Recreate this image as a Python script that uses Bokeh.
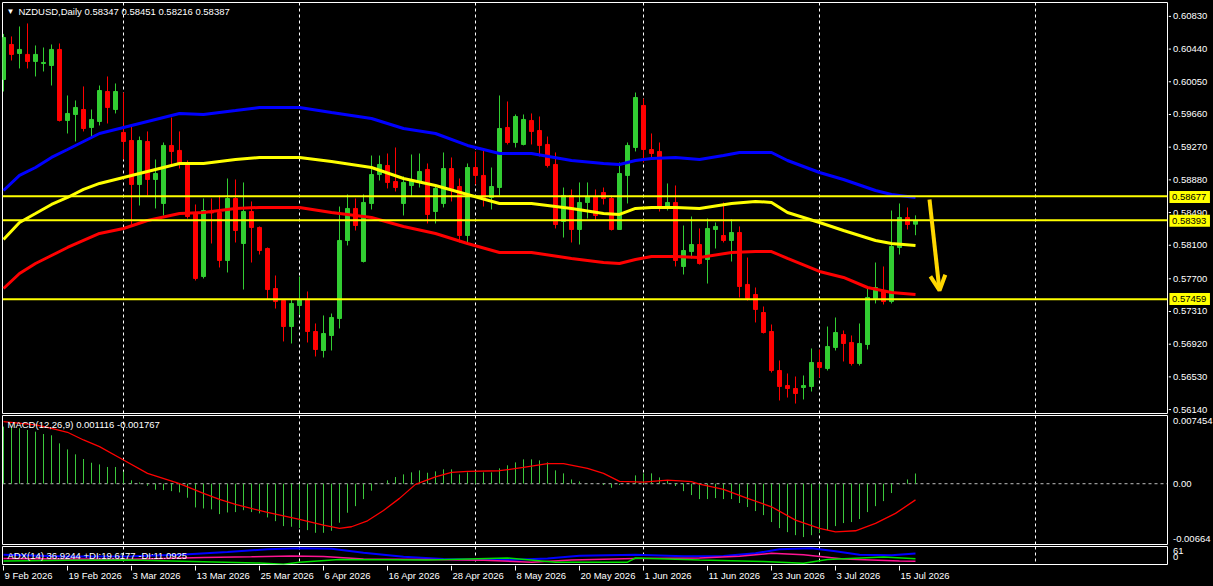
from bokeh.plotting import figure
from bokeh.layouts import column, row
from bokeh.models import Range1d, Span, Label, Arrow, OpenHead, ColumnDataSource
from bokeh.embed import file_html
from bokeh.resources import INLINE
from bokeh.core.properties import value

# ---------------- data ----------------
symbol = "NZDUSD,Daily"

opens = [0.60060, 0.60475, 0.60368, 0.60357, 0.60274, 0.60250, 0.60226, 0.60416, 0.59575, 0.59646,
         0.59705, 0.59492, 0.59563, 0.59918, 0.59705, 0.59433, 0.59338, 0.58817, 0.59326, 0.58876,
         0.58592, 0.59279, 0.59220, 0.59077, 0.58473, 0.57727, 0.58485, 0.58485, 0.57917, 0.58651,
         0.58118, 0.58497, 0.58308, 0.58059, 0.57585, 0.57443, 0.57135, 0.57384, 0.57455, 0.57076,
         0.56851, 0.57029, 0.57230, 0.58154, 0.58533, 0.57905, 0.58592, 0.58935, 0.59042, 0.58852,
         0.58592, 0.58805, 0.58852, 0.58995, 0.58497, 0.58592, 0.59006, 0.58793, 0.58213, 0.59018,
         0.58924, 0.58663, 0.58781, 0.59492, 0.59314, 0.59291, 0.59575, 0.59456, 0.59291, 0.59054,
         0.58379, 0.58687, 0.58284, 0.58604, 0.58675, 0.58722, 0.58651, 0.58284, 0.58924, 0.59255,
         0.59753, 0.59231, 0.59208, 0.58545, 0.58604, 0.57846, 0.58023, 0.58106, 0.57929, 0.58284,
         0.58213, 0.58154, 0.58248, 0.57633, 0.57514, 0.57301, 0.57076, 0.56614, 0.56436, 0.56401,
         0.56413, 0.56425, 0.56709, 0.56638, 0.56887, 0.57040, 0.56946, 0.56697, 0.56922, 0.57467,
         0.57550, 0.57431, 0.58071, 0.58426, 0.58347]
highs = [0.60600, 0.60570, 0.60688, 0.60724, 0.60463, 0.60439, 0.60475, 0.60487, 0.59871, 0.59812,
         0.59978, 0.59705, 0.59989, 0.60096, 0.60013, 0.59906, 0.59528, 0.59385, 0.59445, 0.59113,
         0.59314, 0.59610, 0.59445, 0.59101, 0.58580, 0.58651, 0.58651, 0.58687, 0.58888, 0.58876,
         0.58841, 0.58616, 0.58320, 0.58071, 0.57739, 0.57455, 0.57455, 0.57727, 0.57550, 0.57171,
         0.57266, 0.57289, 0.58556, 0.58699, 0.58651, 0.58699, 0.59160, 0.59160, 0.59184, 0.59255,
         0.58912, 0.59172, 0.59184, 0.59066, 0.58793, 0.59196, 0.59137, 0.58888, 0.59066, 0.59208,
         0.59231, 0.59018, 0.59871, 0.59800, 0.59646, 0.59646, 0.59658, 0.59622, 0.59385, 0.59196,
         0.58781, 0.58758, 0.58841, 0.58841, 0.58758, 0.58781, 0.58687, 0.59077, 0.59314, 0.59906,
         0.59835, 0.59421, 0.59314, 0.58829, 0.58805, 0.58331, 0.58438, 0.58296, 0.58414, 0.58367,
         0.58604, 0.58402, 0.58320, 0.57952, 0.57597, 0.57372, 0.57159, 0.56733, 0.56579, 0.56543,
         0.56555, 0.56875, 0.56863, 0.57135, 0.57242, 0.57088, 0.57029, 0.57171, 0.57597, 0.57893,
         0.57846, 0.58509, 0.58592, 0.58545, 0.58451]
lows = [0.59918, 0.60285, 0.60191, 0.60191, 0.60096, 0.60155, 0.59989, 0.59563, 0.59421, 0.59326,
        0.59445, 0.59374, 0.59516, 0.59539, 0.59658, 0.59113, 0.58343, 0.58568, 0.58687, 0.58533,
        0.58450, 0.59042, 0.59006, 0.58414, 0.57680, 0.57704, 0.58118, 0.57834, 0.57775, 0.58130,
        0.57573, 0.57893, 0.57988, 0.57455, 0.57348, 0.56958, 0.56934, 0.57277, 0.56946, 0.56780,
        0.56768, 0.56851, 0.57112, 0.58095, 0.58272, 0.57893, 0.58521, 0.58864, 0.58770, 0.58734,
        0.58450, 0.58675, 0.58781, 0.58355, 0.58355, 0.58545, 0.58616, 0.58130, 0.58106, 0.58817,
        0.58556, 0.58521, 0.58687, 0.59291, 0.59255, 0.59280, 0.59291, 0.59149, 0.59018, 0.58296,
        0.58189, 0.58130, 0.58106, 0.58414, 0.58391, 0.58580, 0.58272, 0.58280, 0.58592, 0.59208,
        0.59077, 0.59137, 0.58497, 0.58509, 0.57846, 0.57751, 0.57941, 0.57869, 0.57644, 0.58059,
        0.58130, 0.57905, 0.57479, 0.57443, 0.57183, 0.57052, 0.56590, 0.56259, 0.56294, 0.56223,
        0.56271, 0.56365, 0.56531, 0.56614, 0.56851, 0.56721, 0.56673, 0.56673, 0.56863, 0.57408,
        0.57396, 0.57408, 0.57988, 0.58284, 0.58216]
closes = [0.60558, 0.60357, 0.60416, 0.60274, 0.60357, 0.60262, 0.60416, 0.59575, 0.59658, 0.59729,
          0.59480, 0.59587, 0.59930, 0.59729, 0.59918, 0.59326, 0.58817, 0.59338, 0.58876, 0.58947,
          0.59279, 0.59208, 0.59066, 0.58438, 0.57704, 0.58509, 0.58480, 0.57917, 0.58651, 0.58272,
          0.58497, 0.58308, 0.58035, 0.57573, 0.57431, 0.57135, 0.57408, 0.57455, 0.57076, 0.56863,
          0.57052, 0.57242, 0.58154, 0.58533, 0.58331, 0.58604, 0.58935, 0.59054, 0.58841, 0.58781,
          0.58841, 0.58864, 0.58971, 0.58462, 0.58770, 0.59006, 0.58770, 0.58213, 0.59018, 0.58924,
          0.58663, 0.58793, 0.59480, 0.59314, 0.59622, 0.59587, 0.59445, 0.59279, 0.59042, 0.58343,
          0.58687, 0.58284, 0.58604, 0.58675, 0.58450, 0.58651, 0.58284, 0.58947, 0.59279, 0.59847,
          0.59231, 0.59184, 0.58533, 0.58604, 0.57917, 0.58035, 0.58106, 0.57881, 0.58296, 0.58320,
          0.58154, 0.58248, 0.57609, 0.57467, 0.57337, 0.57064, 0.56614, 0.56425, 0.56401, 0.56342,
          0.56436, 0.56709, 0.56650, 0.56898, 0.57064, 0.56934, 0.56697, 0.56934, 0.57479, 0.57597,
          0.57431, 0.58083, 0.58426, 0.58343, 0.58387]

# moving averages (sampled along the drawn curves: bar index, price)
ma_blue_idx = [0, 2, 4, 6, 8, 10, 12, 15, 18, 22, 25, 29, 32, 37, 41, 46, 50, 54, 58, 62,
               66, 71, 75, 77, 79, 81, 84, 87, 90, 92, 96, 98, 102, 105, 109, 111, 114]
ma_blue_val = [0.58746, 0.58924, 0.59018, 0.59137, 0.59231, 0.59326, 0.59421, 0.59492, 0.59563, 0.59658,
               0.59646, 0.59693, 0.59729, 0.59729, 0.59670, 0.59599, 0.59480, 0.59421, 0.59279, 0.59184,
               0.59184, 0.59101, 0.59066, 0.59054, 0.59101, 0.59125, 0.59137, 0.59113, 0.59160, 0.59196,
               0.59196, 0.59101, 0.58959, 0.58876, 0.58746, 0.58699, 0.58663]
ma_yellow_idx = [0, 2, 4, 6, 8, 10, 12, 15, 18, 22, 25, 29, 32, 37, 41, 46, 50, 54, 58, 62,
                 66, 71, 75, 77, 79, 81, 84, 87, 91, 94, 96, 98, 102, 105, 109, 111, 114]
ma_yellow_val = [0.58166, 0.58367, 0.58473, 0.58580, 0.58663, 0.58758, 0.58829, 0.58900, 0.58971, 0.59066,
                 0.59066, 0.59113, 0.59137, 0.59137, 0.59089, 0.59018, 0.58888, 0.58805, 0.58699, 0.58592,
                 0.58592, 0.58533, 0.58473, 0.58462, 0.58533, 0.58545, 0.58545, 0.58533, 0.58592, 0.58616,
                 0.58604, 0.58485, 0.58367, 0.58272, 0.58154, 0.58118, 0.58095]
ma_red_idx = [0, 2, 4, 6, 8, 10, 12, 15, 18, 22, 25, 29, 32, 37, 41, 46, 50, 54, 58, 62,
              66, 71, 75, 77, 79, 81, 84, 87, 91, 94, 96, 98, 102, 105, 108, 111, 114]
ma_red_val = [0.57585, 0.57763, 0.57881, 0.57976, 0.58071, 0.58154, 0.58237, 0.58296, 0.58391, 0.58473,
              0.58485, 0.58533, 0.58545, 0.58545, 0.58485, 0.58426, 0.58320, 0.58237, 0.58118, 0.58012,
              0.58012, 0.57941, 0.57893, 0.57881, 0.57929, 0.57964, 0.57964, 0.57952, 0.58012, 0.58023,
              0.58023, 0.57941, 0.57787, 0.57716, 0.57597, 0.57538, 0.57514]

levels = [0.58677, 0.58393, 0.57459]
price_ticks = [0.60830, 0.60440, 0.60050, 0.59660, 0.59270, 0.58880, 0.58490,
               0.58100, 0.57700, 0.57310, 0.56920, 0.56530, 0.56140]

macd_hist = [0.00624, 0.00616, 0.00606, 0.00587, 0.00569, 0.00543, 0.00529, 0.00441, 0.00375, 0.00321,
             0.00270, 0.00229, 0.00211, 0.00183, 0.00183, 0.00132, 0.00037, 0.00014, -0.00022, -0.00065,
             -0.00069, -0.00081, -0.00095, -0.00153, -0.00259, -0.00270, -0.00280, -0.00332, -0.00314, -0.00310,
             -0.00289, -0.00310, -0.00324, -0.00368, -0.00409, -0.00463, -0.00470, -0.00485, -0.00507, -0.00536,
             -0.00536, -0.00514, -0.00426, -0.00317, -0.00245, -0.00168, -0.00076, -0.00004, 0.00037, 0.00073,
             0.00102, 0.00124, 0.00146, 0.00120, 0.00135, 0.00157, 0.00157, 0.00102, 0.00124, 0.00142,
             0.00124, 0.00124, 0.00168, 0.00201, 0.00233, 0.00266, 0.00266, 0.00255, 0.00233, 0.00146,
             0.00113, 0.00047, 0.00025, 0.00002, -0.00002, -0.00014, -0.00044, -0.00014, 0.00002, 0.00091,
             0.00113, 0.00113, 0.00069, 0.00037, -0.00025, -0.00081, -0.00124, -0.00168, -0.00168, -0.00157,
             -0.00168, -0.00168, -0.00211, -0.00255, -0.00299, -0.00343, -0.00419, -0.00485, -0.00529, -0.00562,
             -0.00583, -0.00562, -0.00539, -0.00507, -0.00463, -0.00430, -0.00419, -0.00386, -0.00310, -0.00245,
             -0.00190, -0.00102, -0.00007, 0.00047, 0.001116]
signal_idx = [0, 4, 6, 8, 10, 12, 15, 18, 22, 25, 27, 29, 33, 37, 40, 42, 43.5, 45.5, 47.5, 49.5,
              51.5, 54, 56, 58, 62, 65, 68, 70, 73, 75, 77, 80, 83, 86, 87, 90, 93, 96, 99, 102,
              104, 106.5, 109, 111.5, 114]
signal_val = [0.00678, 0.00642, 0.00606, 0.00562, 0.00478, 0.00405, 0.00259, 0.00113, 0.0, -0.00106,
              -0.00171, -0.00226, -0.00314, -0.00390, -0.00452, -0.00488, -0.00470, -0.00405, -0.00292, -0.00160,
              -0.00007, 0.00076, 0.00124, 0.00134, 0.00142, 0.00178, 0.00219, 0.00219, 0.00168, 0.00113,
              0.00025, 0.00018, 0.00040, 0.00022, -0.00004, -0.00062, -0.00160, -0.00252, -0.00398, -0.00488,
              -0.00525, -0.00514, -0.00434, -0.00324, -0.001767]
macd_scale = [-0.00664, 0.007454]          # bottom / top of the MACD window
macd_ticks = [0.007454, 0.0, -0.00664]
macd_tick_labels = ["0.007454", "0.00", "-0.00664"]

adx_idx = [0, 8, 16, 22, 28, 33, 37, 41, 45, 50, 55, 63, 68, 72, 79, 85, 90, 94, 97, 101, 104, 107, 111, 114]
adx_val = [33, 27, 28, 33, 42, 52, 55, 53, 40, 26, 19, 15, 20, 30, 33, 28, 29, 38, 52, 55, 45, 33, 31, 36.9244]
mdi_idx = [0, 8, 16, 25, 31, 36, 40, 45, 53, 60, 66, 71, 79, 87, 92, 96, 100, 105, 112, 114]
mdi_val = [20, 19, 18, 24, 26, 29, 27, 19, 17, 14, 8, 15, 20, 22, 28, 38, 33, 19, 12, 11.0925]
pdi_idx = [0, 8, 16, 25, 32, 35, 37, 42, 53, 63, 69, 78, 79, 87, 95, 100, 103, 110, 114]
pdi_val = [12, 14, 15, 9, 5, 1, 8, 17, 15, 22, 8, 8, 22, 15, 10, 4, 17, 25, 19.6177]
adx_scale = [0, 61]
adx_tick_labels = ["61", "0"]

date_idx = [0, 8, 16, 24, 32, 40, 48, 56, 64, 72, 80, 88, 96, 104, 112]
date_labels = ["9 Feb 2026", "19 Feb 2026", "3 Mar 2026", "13 Mar 2026", "25 Mar 2026",
               "6 Apr 2026", "16 Apr 2026", "28 Apr 2026", "8 May 2026", "20 May 2026",
               "1 Jun 2026", "11 Jun 2026", "23 Jun 2026", "3 Jul 2026", "15 Jul 2026"]
separator_idx = [15, 37, 59, 80, 102, 129]

# drawn arrow (bar index, price)
arrow_start = (115.75, 0.58639)
arrow_end = (117.0, 0.57562)

# ---------------- styling / layout ----------------
W_MAIN, W_SIDE = 1168, 45
LEFT = 2
FONT = "Liberation Sans"
FS = "9.5px"
FG = "white"
BG = "black"
BULL = "#32CD32"
BEAR = "#FF0000"
TAG = "#FFFF00"

xr = Range1d(-0.125, 145.5)      # 8 px per bar, first bar 1 px inside the frame


def panel(height, y_range, top, bottom):
    p = figure(width=W_MAIN, height=height, x_range=xr, y_range=y_range,
               output_backend="svg", toolbar_location=None, tools="",
               x_axis_type=None, y_axis_type=None,
               min_border_left=LEFT, min_border_right=1,
               min_border_top=top, min_border_bottom=bottom,
               background_fill_color=BG, border_fill_color=BG,
               outline_line_color=FG, outline_line_width=1)
    p.grid.visible = False
    for s in separator_idx:
        p.add_layout(Span(location=s, dimension="height", line_color=FG,
                          line_width=1, line_dash="3 3", level="underlay"))
    return p


def side(height, y_range):
    r = figure(width=W_SIDE, height=height, x_range=Range1d(0, W_SIDE), y_range=y_range,
               output_backend="svg", toolbar_location=None, tools="",
               x_axis_type=None, y_axis_type=None,
               min_border_left=0, min_border_right=0, min_border_top=0, min_border_bottom=0,
               background_fill_color=BG, border_fill_color=BG, outline_line_color=None)
    r.grid.visible = False
    return r


def side_text(r, ys, texts, color=FG, baseline="middle", x=4.5, y_offset=0):
    r.text(x=[x] * len(ys), y=ys, text=texts, text_color=color, text_align="left",
           text_baseline=baseline, y_offset=y_offset,
           text_font=value(FONT), text_font_size=FS)


def title(p, x, y, text, size=FS):
    p.add_layout(Label(x=x, y=y, x_units="screen", y_units="screen", text=text,
                       text_color=FG, text_font=FONT, text_font_size=size,
                       text_baseline="middle", text_align="left"))


n = len(opens)
bars = list(range(n))

# ---- main price window ----
PX_MAIN = (0.60972 - 0.56105) / 411
p1 = panel(414, Range1d(0.56105, 0.60972), 2, 1)
src = ColumnDataSource(dict(
    x=bars, high=highs, low=lows,
    top=[max(o, c) for o, c in zip(opens, closes)],
    bottom=[min(o, c) for o, c in zip(opens, closes)],
    color=[BULL if c >= o else BEAR for o, c in zip(opens, closes)],
))
p1.segment(x0="x", y0="low", x1="x", y1="high", line_color="color", line_width=1, source=src)
p1.vbar(x="x", width=0.5, top="top", bottom="bottom", fill_color="color",
        line_color="color", line_width=1, source=src)
p1.line(ma_blue_idx, ma_blue_val, line_color="#0000FF", line_width=3)
p1.line(ma_yellow_idx, ma_yellow_val, line_color="#FFFF00", line_width=3)
p1.line(ma_red_idx, ma_red_val, line_color="#FF0000", line_width=3)
for lv in levels:
    p1.add_layout(Span(location=lv, dimension="width", line_color=TAG, line_width=2))
p1.add_layout(Arrow(end=OpenHead(line_color="#FFD700", line_width=4, size=15),
                    x_start=arrow_start[0], y_start=arrow_start[1],
                    x_end=arrow_end[0], y_end=arrow_end[1],
                    line_color="#FFD700", line_width=4))
title(p1, 4, 402, "\u25BC", size="8px")
title(p1, 16, 402, f"{symbol}  {opens[-1]:.5f} {highs[-1]:.5f} {lows[-1]:.5f} {closes[-1]:.5f}")

r1 = side(414, Range1d(0.56105 - PX_MAIN, 0.60972 + 2 * PX_MAIN))
r1.segment(x0=[0] * len(price_ticks), y0=price_ticks, x1=[2.5] * len(price_ticks), y1=price_ticks,
           line_color=FG, line_width=1)
side_text(r1, price_ticks, [f"{t:.5f}" for t in price_ticks])
r1.rect(x=[21.2] * len(levels), y=levels, width=40.5, height=12, height_units="screen",
        fill_color=TAG, line_color=None)
side_text(r1, levels, [f"{lv:.5f}" for lv in levels], color="black", x=3.5)

# ---- MACD window ----
PX_MACD = (macd_scale[1] - macd_scale[0]) / 129
p2 = panel(131, Range1d(macd_scale[0], macd_scale[1]), 1, 1)
p2.add_layout(Span(location=0, dimension="width", line_color="#C0C0C0",
                   line_width=1, line_dash="3 3", level="underlay"))
p2.segment(x0=bars, y0=[0] * n, x1=bars, y1=macd_hist, line_color="#3CC83C", line_width=1)
p2.line(signal_idx, signal_val, line_color="#FF0000", line_width=1.3)
title(p2, 5, 120, f"MACD(12,26,9) {macd_hist[-1]:.6f} {signal_val[-1]:.6f}")

r2 = side(131, Range1d(macd_scale[0] - PX_MACD, macd_scale[1] + PX_MACD))
side_text(r2, [macd_ticks[0]], [macd_tick_labels[0]], baseline="top", y_offset=1.5)
side_text(r2, [macd_ticks[1]], [macd_tick_labels[1]])
side_text(r2, [macd_ticks[2]], [macd_tick_labels[2]], baseline="bottom", y_offset=-1.5)

# ---- ADX window ----
PX_ADX = (adx_scale[1] - adx_scale[0]) / 18
p3 = panel(20, Range1d(adx_scale[0], adx_scale[1]), 1, 1)
p3.line(adx_idx, adx_val, line_color="#0000FF", line_width=2)
p3.line(mdi_idx, mdi_val, line_color="#FF1493", line_width=1.5)
p3.line(pdi_idx, pdi_val, line_color="#00E000", line_width=1.5)
title(p3, 5, 9, f"ADX(14) {adx_val[-1]:.4f} +DI:{pdi_val[-1]:.4f} -DI:{mdi_val[-1]:.4f}")

r3 = side(20, Range1d(adx_scale[0] - PX_ADX, adx_scale[1] + PX_ADX))
side_text(r3, [adx_scale[1]], [adx_tick_labels[0]], baseline="top", y_offset=1)
side_text(r3, [adx_scale[0]], [adx_tick_labels[1]], baseline="bottom", y_offset=-4)

# ---- time scale ----
p4 = figure(width=W_MAIN + W_SIDE, height=21, x_range=xr, y_range=Range1d(0, 21),
            output_backend="svg", toolbar_location=None, tools="",
            x_axis_type=None, y_axis_type=None,
            min_border_left=LEFT, min_border_right=W_SIDE + 1, min_border_top=0, min_border_bottom=0,
            background_fill_color=BG, border_fill_color=BG, outline_line_color=None)
p4.grid.visible = False
p4.segment(x0=date_idx, y0=[21] * len(date_idx), x1=date_idx, y1=[16] * len(date_idx),
           line_color=FG, line_width=1)
p4.text(x=date_idx, y=[11.5] * len(date_idx), text=date_labels, x_offset=1,
        text_align="left", text_baseline="middle", text_color=FG,
        text_font=value(FONT), text_font_size=FS)

layout = column(row(p1, r1, spacing=0), row(p2, r2, spacing=0), row(p3, r3, spacing=0), p4,
                spacing=0, background=BG)
open("out.html", "w").write(file_html(layout, INLINE))
